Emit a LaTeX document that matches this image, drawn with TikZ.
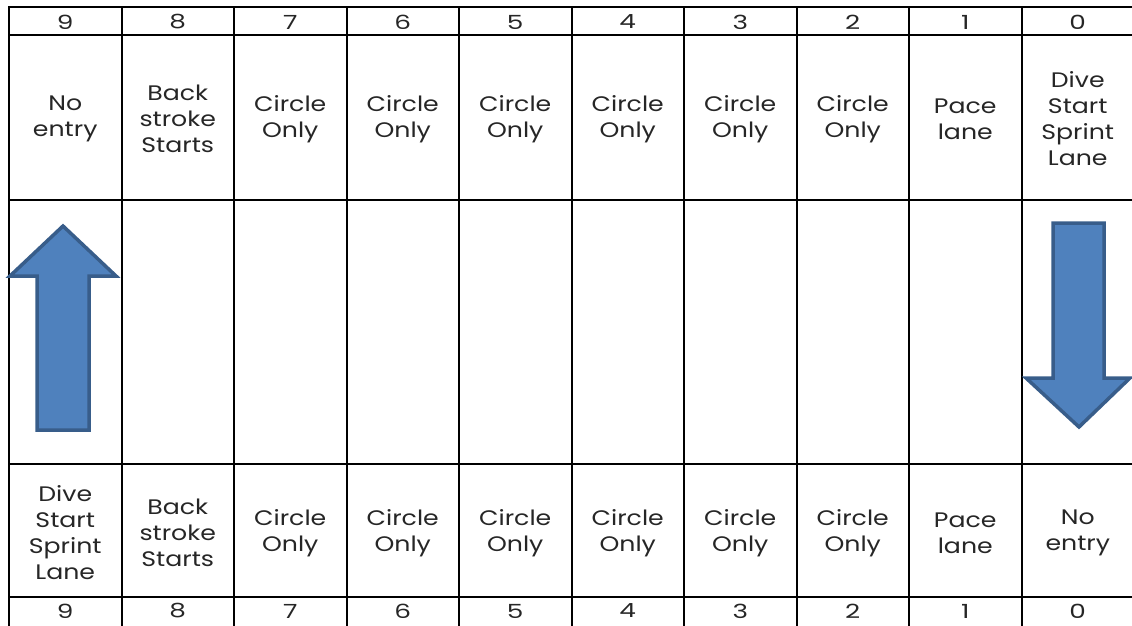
\documentclass[tikz,border=0pt]{standalone}
\usepackage{fontspec}
\setmainfont{Poppins}
\newfontfamily\widefont[FakeStretch=1.2]{Poppins}
\newfontfamily\numfont[FakeStretch=1.35]{Poppins}
\definecolor{arrowfill}{HTML}{4F81BD}
\definecolor{arrowline}{HTML}{385D8A}
\definecolor{txt}{HTML}{262626}
\begin{document}
\begin{tikzpicture}[x=1pt,y=-1pt,
  grid/.style={line width=2pt, black, line cap=rect},
  cell/.style={align=center, font=\widefont\fontsize{21}{26}\selectfont, text=txt, inner sep=0pt},
  num/.style={font=\numfont\fontsize{19.5}{22}\selectfont, text=txt, inner sep=0pt},
  bigarrow/.style={fill=arrowfill, draw=arrowline, line width=3.5pt, line join=miter}]
\useasboundingbox (0,0) rectangle (1132,626);
\clip (0,0) rectangle (1132,626);
% grid
\foreach \y in {7,35,200,464,597,627} \draw[grid] (9,\y) -- (1134,\y);
\foreach \i in {0,...,10} \draw[grid] ({9+112.5*\i},7) -- ({9+112.5*\i},627);
% lane numbers
\foreach \n [count=\i from 0] in {9,8,7,6,5,4,3,2,1,0} {
  \node[num] (top\n) at ({65.25+112.5*\i},22) {\n};
  \node[num] (bot\n) at ({65.25+112.5*\i},611) {\n};
}
% top row
\foreach \t [count=\i from 0] in {{No\\entry},{Back\\stroke\\Starts},{Circle\\Only},{Circle\\Only},{Circle\\Only},{Circle\\Only},{Circle\\Only},{Circle\\Only},{Pace\\lane},{Dive\\Start\\Sprint\\Lane}}
  \node[cell] (up\i) at ({65.25+112.5*\i},119) {\t};
% bottom row
\foreach \t [count=\i from 0] in {{Dive\\Start\\Sprint\\Lane},{Back\\stroke\\Starts},{Circle\\Only},{Circle\\Only},{Circle\\Only},{Circle\\Only},{Circle\\Only},{Circle\\Only},{Pace\\lane},{No\\entry}}
  \node[cell] (dn\i) at ({65.25+112.5*\i},533) {\t};
% arrows
\draw[bigarrow] (63,226) -- (116,276) -- (89,276) -- (89,430) -- (37,430) -- (37,276) -- (10,276) -- cycle;
\draw[bigarrow] (1079,427) -- (1130,378) -- (1104,378) -- (1104,223) -- (1053,223) -- (1053,378) -- (1026,378) -- cycle;
\end{tikzpicture}
\end{document}
